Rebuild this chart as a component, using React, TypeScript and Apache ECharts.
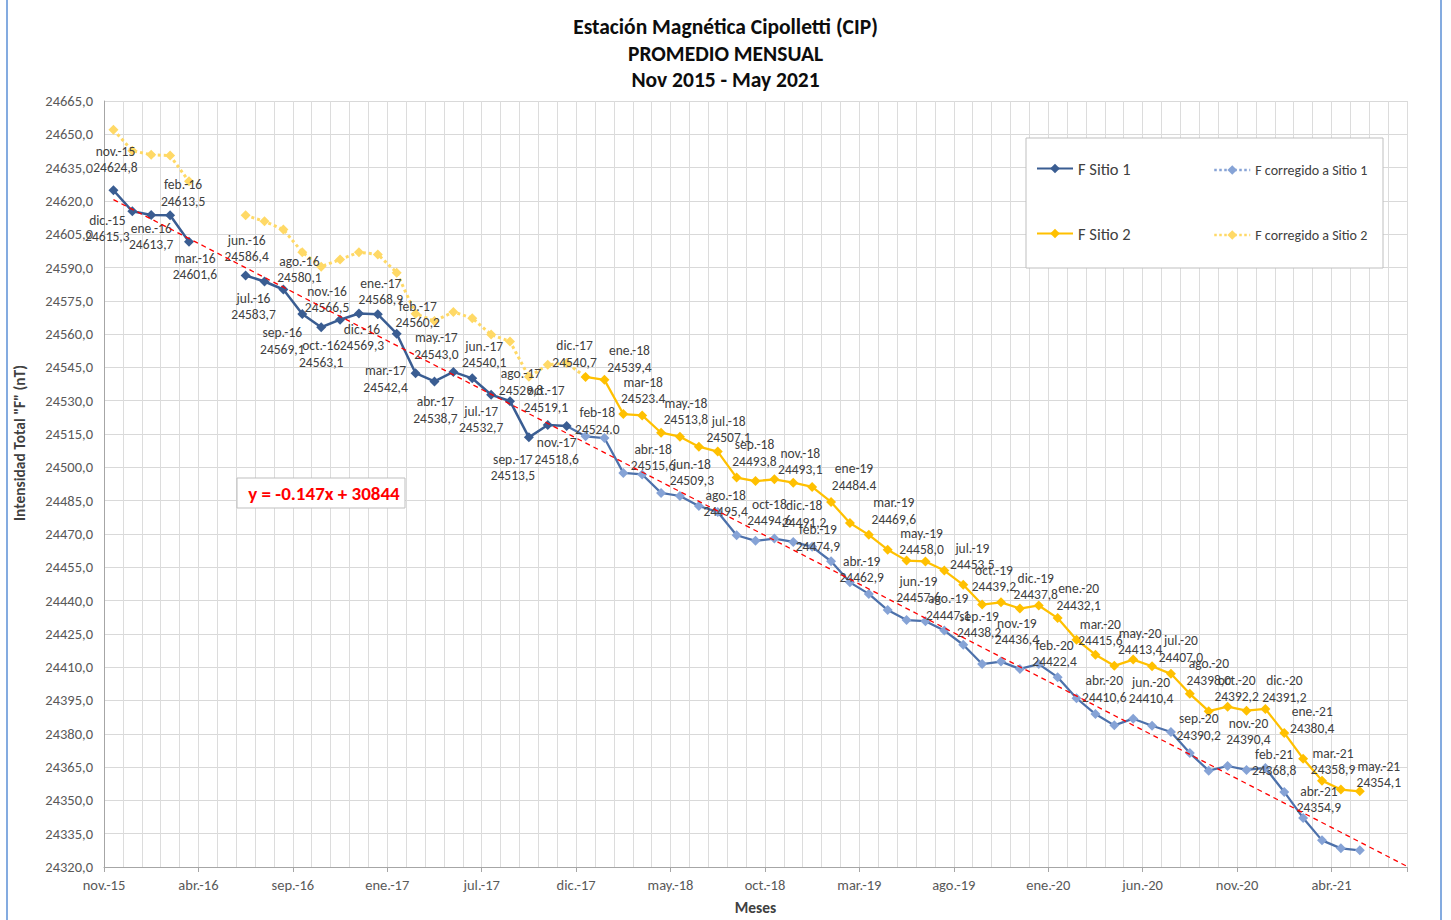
import React, { useEffect, useRef } from 'react';
import * as echarts from 'echarts';

const BASE = 24320;
const FONT = "Carlito, 'Liberation Sans Narrow', 'Noto Sans', sans-serif";

const xTickLabels = ['nov.-15', 'abr.-16', 'sep.-16', 'ene.-17', 'jul.-17', 'dic.-17', 'may.-18', 'oct.-18', 'mar.-19', 'ago.-19', 'ene.-20', 'jun.-20', 'nov.-20', 'abr.-21'];

const months = [
  'nov.-15', 'dic.-15', 'ene.-16', 'feb.-16', 'mar.-16', 'abr.-16', 'may.-16', 'jun.-16', 'jul.-16', 'ago.-16', 'sep.-16', 'oct.-16',
  'nov.-16', 'dic.-16', 'ene.-17', 'feb.-17', 'mar.-17', 'abr.-17', 'may.-17', 'jun.-17', 'jul.-17', 'ago.-17', 'sep.-17', 'oct.-17',
  'nov.-17', 'dic.-17', 'ene.-18', 'feb-18', 'mar-18', 'abr.-18', 'may.-18', 'jun.-18', 'jul.-18', 'ago.-18', 'sep.-18', 'oct-18',
  'nov.-18', 'dic.-18', 'ene-19', 'feb.-19', 'mar.-19', 'abr.-19', 'may.-19', 'jun.-19', 'jul.-19', 'ago.-19', 'sep.-19', 'oct.-19',
  'nov.-19', 'dic.-19', 'ene.-20', 'feb.-20', 'mar.-20', 'abr.-20', 'may.-20', 'jun.-20', 'jul.-20', 'ago.-20', 'sep.-20', 'oct.-20',
  'nov.-20', 'dic.-20', 'ene.-21', 'feb.-21', 'mar.-21', 'abr.-21', 'may.-21',
];
const dotDecimalMonths = ['feb-18', 'mar-18', 'ene-19'];

// F Sitio 1 (nov-15 .. nov-17)
const sitio1: (number | null)[] = [
  24624.8, 24615.3, 24613.7, 24613.5, 24601.6, null, null, 24586.4, 24583.7, 24580.1, 24569.1, 24563.1,
  24566.5, 24569.3, 24568.9, 24560.2, 24542.4, 24538.7, 24543.0, 24540.1, 24532.7, 24529.8, 24513.5, 24519.1,
  24518.6,
];
// F corregido a Sitio 1 (nov-17 .. may-21)
const corr1Start = 24;
const corr1: number[] = [
  24518.6, 24514.0, 24513.2, 24497.5, 24496.8, 24488.5, 24487.1, 24482.6, 24479.9, 24469.4, 24466.9, 24467.9,
  24466.4, 24464.2, 24457.7, 24448.2, 24443.0, 24435.7, 24431.2, 24430.7, 24426.5, 24420.1, 24411.4, 24412.5,
  24409.2, 24411.4, 24405.5, 24396.0, 24388.9, 24383.8, 24386.8, 24383.6, 24380.8, 24371.3, 24363.4, 24365.5,
  24363.7, 24364.6, 24353.8, 24342.1, 24332.0, 24328.4, 24327.5,
];
// F Sitio 2 (dic-17 .. may-21)
const sitio2Start = 25;
const sitio2: number[] = [
  24540.7, 24539.4, 24524.0, 24523.4, 24515.6, 24513.8, 24509.3, 24507.1, 24495.4, 24493.8, 24494.6,
  24493.1, 24491.2, 24484.4, 24474.9, 24469.6, 24462.9, 24458.0, 24457.6, 24453.5, 24447.1, 24438.2, 24439.2,
  24436.4, 24437.8, 24432.1, 24422.4, 24415.6, 24410.6, 24413.4, 24410.4, 24407.0, 24398.0, 24390.2, 24392.2,
  24390.4, 24391.2, 24380.4, 24368.8, 24358.9, 24354.9, 24354.1,
];
// F corregido a Sitio 2 (nov-15 .. dic-17)
const corr2: (number | null)[] = [
  24652.0, 24642.6, 24640.8, 24640.4, 24628.8, null, null, 24613.5, 24610.8, 24607.1, 24596.9, 24590.4,
  24593.6, 24596.9, 24595.9, 24587.7, 24569.2, 24565.9, 24570.0, 24567.2, 24559.8, 24556.7, 24540.8, 24546.2,
  24547.0, 24540.7,
];
// linear trend end points (month position, value)
const trendX = [0.5, 69];
const trendY = [24620.6, 24320.3];

// data label offsets (dx, dy) from each point, by month index
const labelOffsets: ([number, number] | null)[] = [
  [2, -31], [-25, 17], [0, 21.5], [13, -22.5], [6, 24.5], null, null, [1, -27], [-11, 25], [16, -20], [-20, 27], [0, 27],
  [-13, -20], [3, 24], [3, -23], [21, -19], [-30, 6], [1, 28.5], [-17, -26], [12, -24], [-10, 25], [11, -19], [-16, 30], [-2, -26],
  [-10, 25], [-11, -23], [25, -21], [-26, 7], [1, -25], [-8, 25], [6, -25], [-7, 26], [11, -22], [-11, 26], [-1, -28], [-5, 33],
  [7, -21], [-8, 27], [23, -25], [-32, 15], [25, -24], [-26, 20], [15, -19], [-7, 28], [28, -14], [-15, 22], [-3, 20], [-7, -24],
  [-3, 23], [-3, -19], [21, -21], [-22, 14], [5, -22], [-10, 23], [7, -18], [-1, 24], [10, -25], [19, -22], [-10, 16], [9, -18],
  [2, 21], [19, -20], [28, -13], [-29, 4], [11, -19], [-22, 10], [19, -17],
];

function fmtVal(v: number, dot: boolean) {
  const s = v.toFixed(1);
  return dot ? s : s.replace('.', ',');
}

function buildData(values: (number | null)[], start: number, labeled: boolean, noSymbol: number[]) {
  const out: any[] = [];
  values.forEach((v, k) => {
    const i = start + k;
    const x = i + 0.5;
    if (v === null) {
      out.push({ value: [x, '-'] });
      return;
    }
    const item: any = { value: [x, v - BASE] };
    if (noSymbol.includes(i)) item.symbol = 'none';
    if (labeled && labelOffsets[i]) {
      const name = months[i];
      item.label = {
        show: true,
        position: 'inside',
        offset: labelOffsets[i],
        formatter: name + '\n' + fmtVal(v, dotDecimalMonths.includes(name)),
      };
    }
    out.push(item);
  });
  return out;
}

export default function App() {
  const ref = useRef<HTMLDivElement>(null);
  useEffect(() => {
    const chart = echarts.init(ref.current as HTMLDivElement, null, { renderer: 'svg' });
    const labelStyle = { color: '#404040', fontSize: 13.5, fontFamily: FONT, lineHeight: 16.5, align: 'center', verticalAlign: 'middle' };
    const option: any = {
      animation: false,
      backgroundColor: '#ffffff',
      textStyle: { fontFamily: FONT },
      title: {
        text: 'Estación Magnética Cipolletti (CIP)\nPROMEDIO MENSUAL\nNov 2015 - May 2021',
        left: 'center',
        top: 9,
        textStyle: { fontSize: 21.5, fontWeight: 'bold', lineHeight: 26.5, color: '#0d0d0d', fontFamily: FONT },
      },
      grid: { left: 104, top: 101, right: 44, bottom: 51, containLabel: false },
      xAxis: [
        {
          type: 'value', min: 0, max: 69, interval: 5,
          name: 'Meses', nameLocation: 'middle', nameGap: 32,
          nameTextStyle: { fontSize: 15.5, fontWeight: 'bold', color: '#404040', fontFamily: FONT },
          axisLine: { show: true, lineStyle: { color: '#a6a6a6' } },
          axisTick: { show: true, length: 5, lineStyle: { color: '#a6a6a6' } },
          axisLabel: {
            color: '#595959', fontSize: 14.5, margin: 10, fontFamily: FONT,
            formatter: (v: number) => (v % 5 === 0 ? xTickLabels[v / 5] || '' : ''),
          },
          splitLine: { show: false },
        },
        {
          type: 'value', min: 0, max: 69, interval: 1, position: 'bottom',
          axisLine: { show: false }, axisTick: { show: false }, axisLabel: { show: false },
          splitLine: { show: true, lineStyle: { color: '#dcdcdc', width: 1 } },
        },
      ],
      yAxis: {
        type: 'value', min: 0, max: 345, interval: 15,
        axisLine: { show: true, lineStyle: { color: '#a6a6a6' } },
        axisTick: { show: false },
        axisLabel: {
          color: '#595959', fontSize: 14.5, margin: 11, fontFamily: FONT,
          formatter: (v: number) => (v + BASE).toFixed(1).replace('.', ','),
        },
        splitLine: { show: true, lineStyle: { color: '#d9d9d9' } },
      },
      legend: [
        {
          orient: 'vertical', left: 1031, top: 155, itemGap: 48, itemWidth: 36, itemHeight: 12,
          textStyle: { fontSize: 16.5, color: '#404040', fontFamily: FONT },
          data: ['F Sitio 1', 'F Sitio 2'],
          z: 6,
        },
        {
          orient: 'vertical', left: 1208, top: 158, itemGap: 51, itemWidth: 36, itemHeight: 12,
          textStyle: { fontSize: 14, color: '#404040', fontFamily: FONT },
          data: [
            { name: 'F corregido a Sitio 1', lineStyle: { type: 'dotted', color: '#86a3d6', width: 2.5 } },
            { name: 'F corregido a Sitio 2', lineStyle: { type: 'dotted', color: '#ffd966', width: 2.5 } },
          ],
          z: 6,
        },
      ],
      graphic: [
        { type: 'line', shape: { x1: 7, y1: 0, x2: 7, y2: 920 }, style: { stroke: '#5b8fd6', lineWidth: 1.5 }, z: 1 },
        { type: 'line', shape: { x1: 1441, y1: 0, x2: 1441, y2: 920 }, style: { stroke: '#5b8fd6', lineWidth: 1.5 }, z: 1 },
        { type: 'rect', shape: { x: 1026, y: 138, width: 357, height: 130 }, style: { fill: '#ffffff', stroke: '#bfbfbf', lineWidth: 1 }, z: 5 },
        { type: 'rect', shape: { x: 237, y: 478, width: 168, height: 30 }, style: { fill: '#ffffff', stroke: '#bfbfbf', lineWidth: 1 }, z: 5 },
        {
          type: 'text', x: 324, y: 493, z: 6,
          style: { text: 'y = -0.147x + 30844', fill: '#ff0000', font: `bold 19px ${FONT}`, align: 'center', verticalAlign: 'middle' },
        },
        {
          type: 'text', x: 19, y: 443, rotation: Math.PI / 2, z: 6,
          style: { text: 'Intensidad Total "F" (nT)', fill: '#404040', font: `bold 15.5px ${FONT}`, align: 'center', verticalAlign: 'middle' },
        },
      ],
      series: [
        {
          name: 'F corregido a Sitio 2', type: 'line', xAxisIndex: 0,
          data: buildData(corr2, 0, false, [25]),
          symbol: 'diamond', symbolSize: 10,
          lineStyle: { color: '#ffd966', width: 3, type: 'dotted' },
          itemStyle: { color: '#ffd966' },
          z: 2,
        },
        {
          name: 'F corregido a Sitio 1', type: 'line', xAxisIndex: 0,
          data: buildData(corr1, corr1Start, false, [24]),
          symbol: 'diamond', symbolSize: 10,
          lineStyle: { color: '#4d71ab', width: 2.25 },
          itemStyle: { color: '#86a3d6' },
          z: 3,
        },
        {
          name: 'F Sitio 2', type: 'line', xAxisIndex: 0,
          data: buildData(sitio2, sitio2Start, true, []),
          symbol: 'diamond', symbolSize: 10,
          lineStyle: { color: '#ffc000', width: 2.25 },
          itemStyle: { color: '#ffc000' },
          label: labelStyle,
          z: 4,
        },
        {
          name: 'F Sitio 1', type: 'line', xAxisIndex: 0,
          data: buildData(sitio1, 0, true, []),
          symbol: 'diamond', symbolSize: 10,
          lineStyle: { color: '#3a5d92', width: 2.5 },
          itemStyle: { color: '#3a5d92' },
          label: labelStyle,
          z: 4,
        },
        {
          name: 'Tendencia', type: 'line', xAxisIndex: 0,
          data: trendX.map((x, k) => [x, trendY[k] - BASE]),
          symbol: 'none',
          lineStyle: { color: '#ff0000', width: 1.3, type: [5, 4] },
          z: 5, silent: true,
        },
      ],
    };
    chart.setOption(option);
    return () => chart.dispose();
  }, []);
  return <div ref={ref} style={{ position: 'absolute', left: 0, top: 0, width: 1451, height: 920, background: '#fff' }} />;
}
